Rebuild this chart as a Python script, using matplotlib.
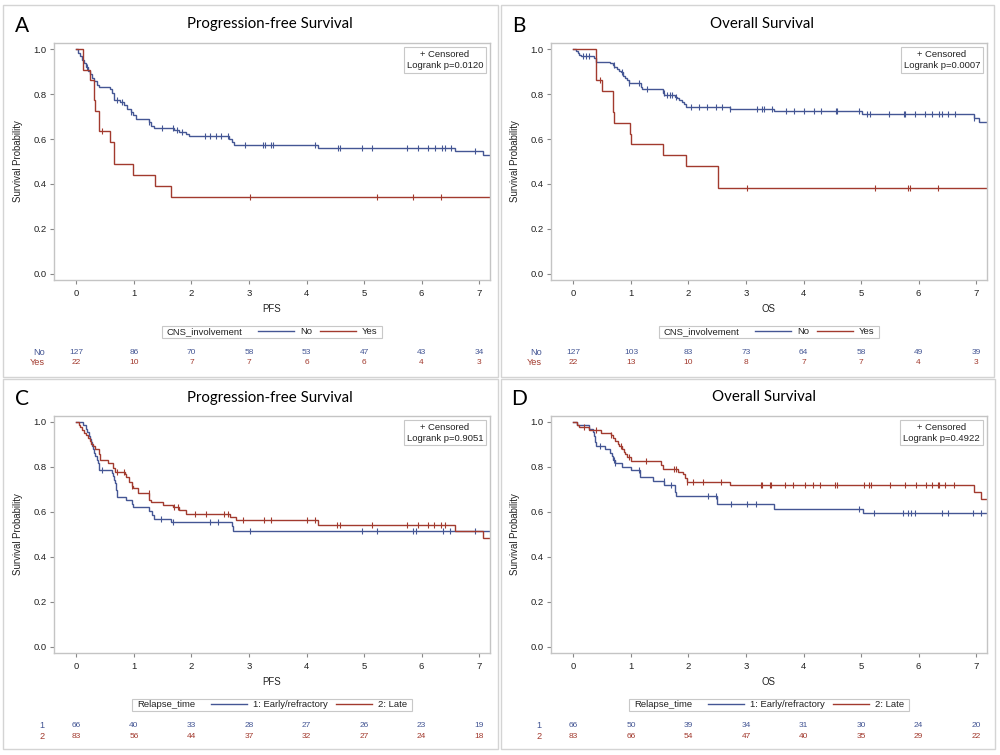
import numpy as np
import matplotlib
matplotlib.use("Agg")
import matplotlib.pyplot as plt
from matplotlib.lines import Line2D
from matplotlib.patches import Rectangle
from matplotlib.offsetbox import HPacker, DrawingArea
import matplotlib.transforms as mtransforms

# ---------------- data ----------------
BLUE = "#445694"
RED = "#A23A2E"

time_ticks = [0, 1, 2, 3, 4, 5, 6, 7]

# Panel A: PFS by CNS involvement
A_no_t = [0.03, 0.06, 0.10, 0.13, 0.17, 0.20, 0.23, 0.27, 0.31, 0.35, 0.40, 0.58, 0.62,
          0.65, 0.76, 0.82, 0.88, 0.94, 0.98, 1.03, 1.26, 1.30, 1.34, 1.70, 1.78, 1.90,
          1.96, 2.66, 2.70, 2.74, 4.20, 6.58, 7.07]
A_no_s = [0.984, 0.968, 0.953, 0.937, 0.921, 0.905, 0.890, 0.874, 0.858, 0.842, 0.834, 0.822,
          0.806, 0.775, 0.767, 0.751, 0.736, 0.720, 0.705, 0.690, 0.674, 0.658, 0.648, 0.640,
          0.632, 0.622, 0.612, 0.600, 0.587, 0.574, 0.562, 0.547, 0.530]
A_no_c = [0.18, 0.70, 0.80, 0.95, 1.27, 1.48, 1.68, 1.74, 1.83, 2.23, 2.32, 2.43, 2.52, 2.64,
          2.93, 3.25, 3.28, 3.39, 3.42, 4.14, 4.55, 4.58, 4.96, 5.13, 5.74, 5.94, 6.12, 6.23,
          6.35, 6.41, 6.52, 6.93]
A_yes_t = [0.12, 0.23, 0.30, 0.33, 0.39, 0.59, 0.65, 0.99, 1.36, 1.65]
A_yes_s = [0.909, 0.864, 0.773, 0.727, 0.636, 0.586, 0.488, 0.439, 0.390, 0.341]
A_yes_c = [0.45, 3.01, 5.23, 5.85, 6.33]
A_risk_no = [127, 86, 70, 58, 53, 47, 43, 34]
A_risk_yes = [22, 10, 7, 7, 6, 6, 4, 3]

# Panel B: OS by CNS involvement
B_no_t = [0.05, 0.08, 0.10, 0.13, 0.36, 0.39, 0.64, 0.68, 0.71, 0.75, 0.79, 0.82, 0.86, 0.90,
          0.93, 0.97, 1.17, 1.19, 1.55, 1.58, 1.77, 1.80, 1.84, 1.88, 1.92, 1.95, 2.73, 3.48,
          5.02, 6.96, 7.05]
B_no_s = [0.992, 0.984, 0.976, 0.968, 0.960, 0.945, 0.937, 0.929, 0.921, 0.913, 0.905, 0.897,
          0.881, 0.873, 0.865, 0.849, 0.832, 0.822, 0.805, 0.797, 0.789, 0.781, 0.772, 0.764,
          0.755, 0.745, 0.734, 0.725, 0.711, 0.693, 0.675]
B_no_c = [0.16, 0.21, 0.27, 0.70, 0.85, 0.97, 1.14, 1.28, 1.57, 1.63, 1.68, 1.72, 1.78, 2.04,
          2.18, 2.33, 2.47, 2.59, 2.73, 3.19, 3.28, 3.31, 3.46, 3.69, 3.84, 4.01, 4.18, 4.30,
          4.56, 4.59, 4.96, 5.10, 5.16, 5.48, 5.74, 5.77, 5.94, 6.12, 6.23, 6.35, 6.41, 6.52,
          6.64, 6.96]
B_yes_t = [0.39, 0.50, 0.68, 0.69, 0.71, 0.98, 1.00, 1.56, 1.95, 2.51]
B_yes_s = [0.864, 0.816, 0.768, 0.720, 0.672, 0.624, 0.576, 0.528, 0.480, 0.384]
B_yes_c = [0.47, 3.02, 5.25, 5.81, 5.85, 6.33]
B_risk_no = [127, 103, 83, 73, 64, 58, 49, 39]
B_risk_yes = [22, 13, 10, 8, 7, 7, 4, 3]

# Panel C: PFS by relapse time
C_e_t = [0.12, 0.16, 0.18, 0.21, 0.23, 0.25, 0.27, 0.29, 0.31, 0.33, 0.35, 0.37, 0.39, 0.40,
         0.61, 0.64, 0.66, 0.67, 0.68, 0.69, 0.70, 0.71, 0.86, 0.97, 0.99, 1.27, 1.31, 1.34,
         1.65, 2.70, 2.73]
C_e_s = [0.985, 0.970, 0.955, 0.939, 0.924, 0.909, 0.894, 0.879, 0.864, 0.848, 0.833, 0.818,
         0.803, 0.788, 0.773, 0.758, 0.742, 0.727, 0.712, 0.697, 0.682, 0.667, 0.651, 0.636,
         0.621, 0.605, 0.588, 0.570, 0.553, 0.535, 0.516]
C_e_c = [0.45, 1.47, 1.68, 2.32, 2.46, 3.01, 4.96, 5.22, 5.85, 5.91, 6.38, 6.49, 6.93]
C_l_t = [0.04, 0.07, 0.10, 0.13, 0.17, 0.20, 0.23, 0.26, 0.29, 0.32, 0.40, 0.41, 0.55, 0.64,
         0.67, 0.84, 0.86, 0.92, 0.96, 0.98, 1.07, 1.27, 1.30, 1.51, 1.68, 1.79, 1.90, 2.67,
         2.77, 4.20, 6.58, 7.07]
C_l_s = [0.988, 0.976, 0.964, 0.952, 0.940, 0.928, 0.916, 0.904, 0.892, 0.880, 0.856, 0.831,
         0.816, 0.797, 0.779, 0.768, 0.757, 0.733, 0.717, 0.705, 0.683, 0.653, 0.643, 0.631,
         0.623, 0.608, 0.591, 0.579, 0.562, 0.542, 0.513, 0.484]
C_l_c = [0.70, 0.83, 0.97, 1.26, 1.70, 1.76, 2.06, 2.25, 2.56, 2.64, 2.90, 3.26, 3.39, 4.00,
         4.14, 4.53, 4.58, 5.13, 5.75, 5.94, 6.12, 6.21, 6.33, 6.40]
C_risk_1 = [66, 40, 33, 28, 27, 26, 23, 19]
C_risk_2 = [83, 56, 44, 37, 32, 27, 24, 18]

# Panel D: OS by relapse time
D_e_t = [0.07, 0.27, 0.34, 0.36, 0.37, 0.38, 0.40, 0.55, 0.64, 0.67, 0.69, 0.72, 0.85, 1.00,
         1.16, 1.39, 1.58, 1.76, 1.79, 2.50, 3.49, 5.03]
D_e_s = [0.985, 0.970, 0.955, 0.939, 0.924, 0.909, 0.894, 0.878, 0.863, 0.848, 0.832, 0.816,
         0.800, 0.786, 0.755, 0.737, 0.720, 0.690, 0.670, 0.634, 0.611, 0.594]
D_e_c = [0.46, 0.70, 0.73, 1.14, 1.57, 1.69, 2.34, 2.47, 2.74, 3.02, 3.17, 4.96, 5.23, 5.73,
         5.81, 5.87, 5.94, 6.41, 6.52, 6.94, 7.08]
D_l_t = [0.06, 0.10, 0.27, 0.48, 0.65, 0.68, 0.72, 0.77, 0.80, 0.84, 0.88, 0.90, 0.93, 1.00,
         1.52, 1.55, 1.81, 1.90, 1.94, 1.97, 2.73, 6.96, 7.08]
D_l_s = [0.988, 0.976, 0.964, 0.952, 0.940, 0.928, 0.916, 0.904, 0.892, 0.880, 0.868, 0.856,
         0.844, 0.827, 0.809, 0.790, 0.778, 0.767, 0.750, 0.734, 0.721, 0.687, 0.657]
D_l_c = [0.18, 0.40, 0.65, 0.82, 0.97, 1.27, 1.74, 1.78, 1.98, 2.08, 2.26, 2.57, 3.26, 3.28,
         3.41, 3.43, 3.67, 3.82, 4.02, 4.16, 4.28, 4.54, 4.58, 5.06, 5.13, 5.17, 5.50, 5.77,
         5.95, 6.13, 6.23, 6.33, 6.35, 6.46, 6.62]
D_risk_1 = [66, 50, 39, 34, 31, 30, 24, 20]
D_risk_2 = [83, 66, 54, 47, 40, 35, 29, 22]

# ---------------- figure ----------------
W, H = 1000, 755
fig = plt.figure(figsize=(10, 7.55), dpi=100)
fig.patch.set_facecolor("white")

SANS = ["Liberation Sans", "DejaVu Sans"]
TITLEF = ["Lato", "DejaVu Sans"]
TXT = "#222222"
XMIN, XMAX = -0.39, 7.19
YMIN, YMAX = -0.028, 1.028


def ax_rect(l, t, r, b):
    return [l / W, 1 - b / H, (r - l) / W, (b - t) / H]


def km(ax, times, surv, cens, color):
    t = np.concatenate([[0.0], times, [XMAX]])
    s = np.concatenate([[1.0], surv, [surv[-1]]])
    ax.step(t, s, where="post", color=color, lw=1.0, solid_joinstyle="miter")
    s_full = np.concatenate([[1.0], surv])
    idx = np.searchsorted(np.asarray(times), np.asarray(cens), side="right")
    ax.plot(cens, s_full[idx], ls="none", marker="|", ms=4, mew=0.8, color=color)


def legend_row(ax, title, labels):
    hs = [Line2D([], [], color=BLUE, lw=1.0), Line2D([], [], color=RED, lw=1.0)]
    leg = ax.legend(hs, labels, title=title, loc="center", bbox_to_anchor=(0.5, -0.219),
                    ncol=2, prop={"family": SANS, "size": 6.8},
                    title_fontproperties={"family": SANS, "size": 6.8},
                    handlelength=3.8, handletextpad=0.6, columnspacing=0.9,
                    borderpad=0.15, frameon=True, fancybox=False, edgecolor="#c8c8c8",
                    framealpha=1)
    leg.get_frame().set_linewidth(0.8)
    for t in leg.get_texts():
        t.set_color(TXT)
    leg.get_title().set_color(TXT)
    inner = HPacker(pad=0, sep=11.5, align="center",
                    children=[leg._legend_title_box, leg._legend_handle_box])
    outer = HPacker(pad=1.0, sep=0, align="center",
                    children=[DrawingArea(2.5, 1), inner, DrawingArea(2.5, 1)])
    outer.set_figure(fig)
    outer.axes = ax
    leg._legend_box = outer
    leg._set_loc(leg._loc)
    return leg


panels = [
    dict(letter="A", title="Progression-free Survival", xlabel="PFS",
         rect=ax_rect(54, 43, 490, 280), tx=270, ty=24, lx=22, ly=26,
         border=(3, 5, 498, 377), p="0.0120",
         curves=[(A_no_t, A_no_s, A_no_c, BLUE), (A_yes_t, A_yes_s, A_yes_c, RED)],
         leg_title="CNS_involvement", leg_labels=["No", "Yes"],
         risk_labels=["No", "Yes"], risk=[A_risk_no, A_risk_yes]),
    dict(letter="B", title="Overall Survival", xlabel="OS",
         rect=ax_rect(551, 43, 987, 280), tx=762, ty=24, lx=519, ly=26,
         border=(501, 5, 994, 377), p="0.0007",
         curves=[(B_no_t, B_no_s, B_no_c, BLUE), (B_yes_t, B_yes_s, B_yes_c, RED)],
         leg_title="CNS_involvement", leg_labels=["No", "Yes"],
         risk_labels=["No", "Yes"], risk=[B_risk_no, B_risk_yes]),
    dict(letter="C", title="Progression-free Survival", xlabel="PFS",
         rect=ax_rect(54, 415.7, 490, 653), tx=270, ty=398, lx=22, ly=399,
         border=(3, 379, 498, 749), p="0.9051",
         curves=[(C_e_t, C_e_s, C_e_c, BLUE), (C_l_t, C_l_s, C_l_c, RED)],
         leg_title="Relapse_time", leg_labels=["1: Early/refractory", "2: Late"],
         risk_labels=["1", "2"], risk=[C_risk_1, C_risk_2]),
    dict(letter="D", title="Overall Survival", xlabel="OS",
         rect=ax_rect(551, 415.7, 987, 653), tx=764, ty=397, lx=519, ly=399,
         border=(501, 379, 995, 749), p="0.4922",
         curves=[(D_e_t, D_e_s, D_e_c, BLUE), (D_l_t, D_l_s, D_l_c, RED)],
         leg_title="Relapse_time", leg_labels=["1: Early/refractory", "2: Late"],
         risk_labels=["1", "2"], risk=[D_risk_1, D_risk_2]),
]

for P in panels:
    l, t, r, b = P["border"]
    fig.patches.append(Rectangle((l / W, 1 - b / H), (r - l) / W, (b - t) / H,
                                 transform=fig.transFigure, fill=False,
                                 ec="#d4d4d4", lw=1.0))
    fig.text(P["lx"] / W, 1 - P["ly"] / H, P["letter"], ha="center", va="center",
             fontsize=15, family=TITLEF, color="black")
    fig.text(P["tx"] / W, 1 - P["ty"] / H, P["title"], ha="center", va="center",
             fontsize=10.8, family=TITLEF, color="black")

    ax = fig.add_axes(P["rect"])
    for tt, ss, cc, col in P["curves"]:
        km(ax, tt, ss, cc, col)
    ax.set_xlim(XMIN, XMAX)
    ax.set_ylim(YMIN, YMAX)
    ax.set_xticks(time_ticks)
    ax.set_yticks([0.0, 0.2, 0.4, 0.6, 0.8, 1.0])
    ax.set_yticklabels(["%.1f" % v for v in [0.0, 0.2, 0.4, 0.6, 0.8, 1.0]])
    for sp in ax.spines.values():
        sp.set_color("#c4c4c4")
        sp.set_linewidth(1.0)
    ax.tick_params(axis="both", direction="out", length=3, width=0.8, color="#888888",
                   labelsize=6.8, labelcolor=TXT)
    ax.tick_params(axis="x", pad=3.2)
    ax.tick_params(axis="y", pad=2.2)
    for lab in ax.get_xticklabels() + ax.get_yticklabels():
        lab.set_family(SANS)

    ax.text(-0.083, 0.5, "Survival Probability", rotation=90, transform=ax.transAxes,
            ha="center", va="center", fontsize=6.9, family=SANS, color=TXT)
    ax.text(0.5, -0.122, P["xlabel"], transform=ax.transAxes, ha="center", va="center",
            fontsize=6.9, family=SANS, color=TXT)

    ax.text(0.984, 0.970, "+ Censored\nLogrank p=" + P["p"], transform=ax.transAxes,
            ha="right", va="top", multialignment="center", fontsize=6.8, family=SANS,
            color=TXT, linespacing=1.25,
            bbox=dict(boxstyle="square,pad=0.3", fc="white", ec="#c8c8c8", lw=0.8))

    legend_row(ax, P["leg_title"], P["leg_labels"])

    trans = mtransforms.blended_transform_factory(ax.transData, ax.transAxes)
    for row, (lab, vals, col) in enumerate(zip(P["risk_labels"], P["risk"], [BLUE, RED])):
        yy = -0.304 - 0.046 * row
        ax.text(-0.55, yy, lab, transform=trans, ha="right", va="center", fontsize=6.6,
                family=SANS, color=col, clip_on=False)
        for xv, v in zip(time_ticks, vals):
            ax.text(xv, yy, str(v), transform=trans, ha="center", va="center",
                    fontsize=6.0, family=SANS, color=col, clip_on=False)

fig.savefig("out.png", dpi=100, facecolor="white")
